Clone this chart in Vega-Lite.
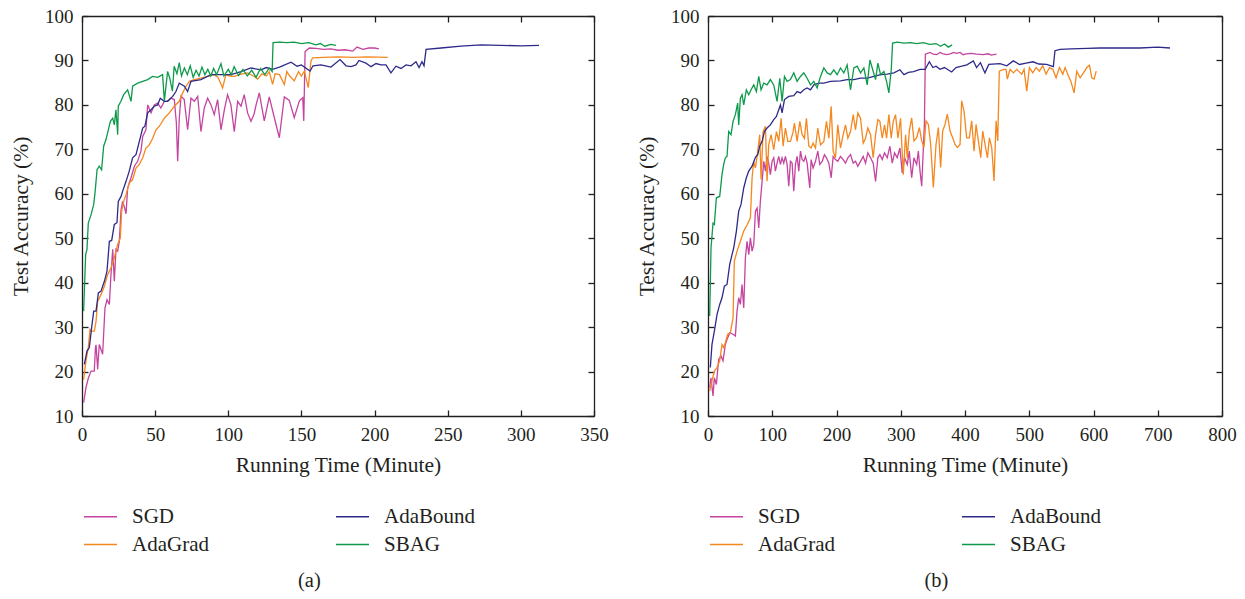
{
"$schema": "https://vega.github.io/schema/vega-lite/v6.json",
"padding": {"left": 10, "top": 7, "right": 5, "bottom": 5},
"background": "white",
"config": {
  "font": "Liberation Serif",
  "view": {"stroke": null},
  "axis": {"labelFont": "Liberation Serif", "titleFont": "Liberation Serif", "labelFontSize": 19, "titleFontSize": 21.5, "titleFontWeight": "normal", "labelColor": "#231f20", "titleColor": "#231f20", "domainColor": "#231f20", "tickColor": "#231f20", "domainWidth": 1.3, "tickWidth": 1.3, "tickSize": -6, "grid": false, "labelPadding": 15, "labelFlush": false},
  "legend": {"labelFont": "Liberation Serif", "labelFontSize": 21, "labelColor": "#231f20"},
  "title": {"font": "Liberation Serif", "fontSize": 20.5, "fontWeight": "normal", "color": "#231f20"},
  "concat": {"spacing": 27}
},
"datasets": {
"a": [
{"s":"SGD","t":1.1,"v":13},{"s":"SGD","t":2.7,"v":16.4},{"s":"SGD","t":4.3,"v":18.5},{"s":"SGD","t":6.2,"v":20.1},{"s":"SGD","t":8.4,"v":20.1},{"s":"SGD","t":9.2,"v":25.4},{"s":"SGD","t":9.6,"v":26},{"s":"SGD","t":10.7,"v":20.5},{"s":"SGD","t":11.8,"v":26.1},{"s":"SGD","t":14.1,"v":23.9},{"s":"SGD","t":15.7,"v":34.3},{"s":"SGD","t":17.1,"v":36.2},{"s":"SGD","t":18.7,"v":35.1},{"s":"SGD","t":19.8,"v":41.8},{"s":"SGD","t":21,"v":47.5},{"s":"SGD","t":22.1,"v":40.3},{"s":"SGD","t":23.2,"v":47.5},{"s":"SGD","t":24.4,"v":47.1},{"s":"SGD","t":25.5,"v":49.3},{"s":"SGD","t":26.7,"v":56.4},{"s":"SGD","t":27.8,"v":58.3},{"s":"SGD","t":29,"v":57},{"s":"SGD","t":30.1,"v":55.5},{"s":"SGD","t":31.2,"v":61.3},{"s":"SGD","t":33.5,"v":63.6},{"s":"SGD","t":35.8,"v":66.2},{"s":"SGD","t":38,"v":67.3},{"s":"SGD","t":40.3,"v":69.6},{"s":"SGD","t":41.5,"v":72.9},{"s":"SGD","t":43.7,"v":74.4},{"s":"SGD","t":44.9,"v":80},{"s":"SGD","t":47.2,"v":78.2},{"s":"SGD","t":49.4,"v":80},{"s":"SGD","t":51.7,"v":80.4},{"s":"SGD","t":53.9,"v":79.3},{"s":"SGD","t":56.3,"v":80.8},{"s":"SGD","t":58.5,"v":80.8},{"s":"SGD","t":60.8,"v":81.5},{"s":"SGD","t":63.1,"v":81.2},{"s":"SGD","t":64.5,"v":76},{"s":"SGD","t":65.4,"v":67.3},{"s":"SGD","t":66.5,"v":77},{"s":"SGD","t":67.7,"v":82},{"s":"SGD","t":69.9,"v":81.2},{"s":"SGD","t":72.2,"v":74.4},{"s":"SGD","t":74.5,"v":81.5},{"s":"SGD","t":76.8,"v":80.8},{"s":"SGD","t":79.1,"v":81.9},{"s":"SGD","t":81.3,"v":74},{"s":"SGD","t":83.6,"v":79.3},{"s":"SGD","t":85.9,"v":81.5},{"s":"SGD","t":88.2,"v":80},{"s":"SGD","t":90.4,"v":77.8},{"s":"SGD","t":92.7,"v":81.2},{"s":"SGD","t":95,"v":74.4},{"s":"SGD","t":97.3,"v":78.9},{"s":"SGD","t":99.5,"v":82.3},{"s":"SGD","t":101.8,"v":80},{"s":"SGD","t":104.1,"v":74},{"s":"SGD","t":106.4,"v":80.8},{"s":"SGD","t":108.7,"v":79.7},{"s":"SGD","t":110.9,"v":82.3},{"s":"SGD","t":113.2,"v":78.2},{"s":"SGD","t":115.5,"v":76.3},{"s":"SGD","t":117.6,"v":77.9},{"s":"SGD","t":119,"v":80},{"s":"SGD","t":121.2,"v":82.7},{"s":"SGD","t":124.6,"v":76.4},{"s":"SGD","t":128,"v":81.8},{"s":"SGD","t":131.5,"v":77.1},{"s":"SGD","t":134.9,"v":72.6},{"s":"SGD","t":138.3,"v":81.8},{"s":"SGD","t":141.7,"v":81},{"s":"SGD","t":145.1,"v":77.1},{"s":"SGD","t":148.6,"v":80.9},{"s":"SGD","t":150.9,"v":81.6},{"s":"SGD","t":151.6,"v":76.4},{"s":"SGD","t":152.5,"v":92},{"s":"SGD","t":155.4,"v":92.8},{"s":"SGD","t":160,"v":92.7},{"s":"SGD","t":165,"v":92.5},{"s":"SGD","t":170,"v":92.6},{"s":"SGD","t":175,"v":92.3},{"s":"SGD","t":180,"v":92.4},{"s":"SGD","t":185,"v":92.1},{"s":"SGD","t":188,"v":93},{"s":"SGD","t":192,"v":92.5},{"s":"SGD","t":196,"v":92.8},{"s":"SGD","t":200,"v":92.8},{"s":"SGD","t":203,"v":92.6},
{"s":"AdaGrad","t":1.1,"v":18.2},{"s":"AdaGrad","t":2.7,"v":22.4},{"s":"AdaGrad","t":4.3,"v":25.4},{"s":"AdaGrad","t":5.5,"v":29.5},{"s":"AdaGrad","t":6.2,"v":29.1},{"s":"AdaGrad","t":8.4,"v":29.1},{"s":"AdaGrad","t":9.6,"v":31.3},{"s":"AdaGrad","t":10.7,"v":35.8},{"s":"AdaGrad","t":13,"v":37.3},{"s":"AdaGrad","t":15.3,"v":39.2},{"s":"AdaGrad","t":17.5,"v":41.8},{"s":"AdaGrad","t":19.8,"v":43.3},{"s":"AdaGrad","t":22.1,"v":45.6},{"s":"AdaGrad","t":24.4,"v":48.6},{"s":"AdaGrad","t":26.2,"v":50.1},{"s":"AdaGrad","t":27.1,"v":56.1},{"s":"AdaGrad","t":28.5,"v":58.3},{"s":"AdaGrad","t":30.1,"v":59.8},{"s":"AdaGrad","t":32.3,"v":62.4},{"s":"AdaGrad","t":34.6,"v":63.2},{"s":"AdaGrad","t":36.9,"v":65.8},{"s":"AdaGrad","t":39.2,"v":66.6},{"s":"AdaGrad","t":41.5,"v":68.1},{"s":"AdaGrad","t":43.7,"v":70.3},{"s":"AdaGrad","t":46,"v":71},{"s":"AdaGrad","t":48.3,"v":72.5},{"s":"AdaGrad","t":50.6,"v":74.4},{"s":"AdaGrad","t":52.9,"v":75.2},{"s":"AdaGrad","t":56.3,"v":77},{"s":"AdaGrad","t":59.7,"v":78.2},{"s":"AdaGrad","t":63.1,"v":79.7},{"s":"AdaGrad","t":66.5,"v":80.8},{"s":"AdaGrad","t":68.8,"v":82.7},{"s":"AdaGrad","t":71.1,"v":84.2},{"s":"AdaGrad","t":73.4,"v":85.3},{"s":"AdaGrad","t":76.8,"v":85.7},{"s":"AdaGrad","t":81.3,"v":86},{"s":"AdaGrad","t":85.9,"v":86.4},{"s":"AdaGrad","t":90.4,"v":86.8},{"s":"AdaGrad","t":93,"v":86.2},{"s":"AdaGrad","t":96.1,"v":83.8},{"s":"AdaGrad","t":98.4,"v":86.8},{"s":"AdaGrad","t":101,"v":86.5},{"s":"AdaGrad","t":104.1,"v":86.4},{"s":"AdaGrad","t":108.7,"v":86.9},{"s":"AdaGrad","t":113.2,"v":87.2},{"s":"AdaGrad","t":117.8,"v":86.4},{"s":"AdaGrad","t":120.1,"v":85.8},{"s":"AdaGrad","t":123,"v":87},{"s":"AdaGrad","t":126,"v":86.5},{"s":"AdaGrad","t":128,"v":87.5},{"s":"AdaGrad","t":130.3,"v":84.6},{"s":"AdaGrad","t":132,"v":87},{"s":"AdaGrad","t":135,"v":86.8},{"s":"AdaGrad","t":138.3,"v":84.6},{"s":"AdaGrad","t":140,"v":87.5},{"s":"AdaGrad","t":142,"v":86.5},{"s":"AdaGrad","t":145.1,"v":85.4},{"s":"AdaGrad","t":148,"v":87.5},{"s":"AdaGrad","t":150,"v":86.5},{"s":"AdaGrad","t":152,"v":87.6},{"s":"AdaGrad","t":154.7,"v":83.9},{"s":"AdaGrad","t":156.5,"v":89.9},{"s":"AdaGrad","t":157.7,"v":90.6},{"s":"AdaGrad","t":165,"v":90.7},{"s":"AdaGrad","t":175,"v":90.8},{"s":"AdaGrad","t":185,"v":90.7},{"s":"AdaGrad","t":195,"v":90.8},{"s":"AdaGrad","t":209,"v":90.7},
{"s":"AdaBound","t":1.6,"v":21.6},{"s":"AdaBound","t":3.4,"v":24.6},{"s":"AdaBound","t":5,"v":25.4},{"s":"AdaBound","t":6.6,"v":29.9},{"s":"AdaBound","t":8,"v":33.6},{"s":"AdaBound","t":9.6,"v":33.6},{"s":"AdaBound","t":11.2,"v":37.7},{"s":"AdaBound","t":13,"v":38.1},{"s":"AdaBound","t":15.3,"v":40.3},{"s":"AdaBound","t":17.1,"v":42.6},{"s":"AdaBound","t":18.7,"v":49.3},{"s":"AdaBound","t":20.3,"v":49.5},{"s":"AdaBound","t":22.1,"v":53.1},{"s":"AdaBound","t":23.9,"v":53.5},{"s":"AdaBound","t":24.8,"v":58.3},{"s":"AdaBound","t":26.7,"v":59.4},{"s":"AdaBound","t":27.8,"v":60.6},{"s":"AdaBound","t":30.1,"v":62.8},{"s":"AdaBound","t":32.3,"v":65.1},{"s":"AdaBound","t":34.6,"v":68.1},{"s":"AdaBound","t":36.9,"v":68.8},{"s":"AdaBound","t":39.2,"v":71.8},{"s":"AdaBound","t":41.5,"v":74.8},{"s":"AdaBound","t":43,"v":75.2},{"s":"AdaBound","t":44.9,"v":78.2},{"s":"AdaBound","t":47.2,"v":78.9},{"s":"AdaBound","t":49.4,"v":79.7},{"s":"AdaBound","t":51.7,"v":80},{"s":"AdaBound","t":53.5,"v":81.5},{"s":"AdaBound","t":56.3,"v":80.8},{"s":"AdaBound","t":58.5,"v":80.8},{"s":"AdaBound","t":62,"v":81.9},{"s":"AdaBound","t":64.2,"v":83},{"s":"AdaBound","t":66.5,"v":84.9},{"s":"AdaBound","t":70,"v":84.2},{"s":"AdaBound","t":72.2,"v":83},{"s":"AdaBound","t":74.5,"v":85.3},{"s":"AdaBound","t":81.3,"v":85.7},{"s":"AdaBound","t":88.2,"v":86.8},{"s":"AdaBound","t":95,"v":86.8},{"s":"AdaBound","t":101.8,"v":86.8},{"s":"AdaBound","t":108.7,"v":87.5},{"s":"AdaBound","t":115.5,"v":88.3},{"s":"AdaBound","t":122.3,"v":87.9},{"s":"AdaBound","t":126,"v":88.4},{"s":"AdaBound","t":130.3,"v":88},{"s":"AdaBound","t":135,"v":88.5},{"s":"AdaBound","t":142.9,"v":89.6},{"s":"AdaBound","t":147,"v":88.7},{"s":"AdaBound","t":150,"v":89},{"s":"AdaBound","t":155.9,"v":87.6},{"s":"AdaBound","t":157.9,"v":88.8},{"s":"AdaBound","t":163.4,"v":89},{"s":"AdaBound","t":170.2,"v":88.5},{"s":"AdaBound","t":176.4,"v":90.2},{"s":"AdaBound","t":180.5,"v":88.8},{"s":"AdaBound","t":183.9,"v":88.6},{"s":"AdaBound","t":187.3,"v":89},{"s":"AdaBound","t":189.4,"v":90},{"s":"AdaBound","t":194.1,"v":89.4},{"s":"AdaBound","t":197.6,"v":88.6},{"s":"AdaBound","t":201,"v":89.3},{"s":"AdaBound","t":204.4,"v":89},{"s":"AdaBound","t":207.8,"v":89},{"s":"AdaBound","t":211.2,"v":87.2},{"s":"AdaBound","t":214.6,"v":88.7},{"s":"AdaBound","t":218.1,"v":88.2},{"s":"AdaBound","t":221.5,"v":89},{"s":"AdaBound","t":224.9,"v":88.8},{"s":"AdaBound","t":228.3,"v":89.7},{"s":"AdaBound","t":230.4,"v":88.4},{"s":"AdaBound","t":232.4,"v":89.7},{"s":"AdaBound","t":233.8,"v":88.8},{"s":"AdaBound","t":235.2,"v":92.5},{"s":"AdaBound","t":245.4,"v":92.8},{"s":"AdaBound","t":259.1,"v":93.2},{"s":"AdaBound","t":272.8,"v":93.5},{"s":"AdaBound","t":286.4,"v":93.4},{"s":"AdaBound","t":300.1,"v":93.3},{"s":"AdaBound","t":312.4,"v":93.4},
{"s":"SBAG","t":1.1,"v":33.6},{"s":"SBAG","t":2.5,"v":46.3},{"s":"SBAG","t":3.4,"v":47.5},{"s":"SBAG","t":4.3,"v":53.4},{"s":"SBAG","t":6.2,"v":55.3},{"s":"SBAG","t":8,"v":57.6},{"s":"SBAG","t":8.9,"v":60.2},{"s":"SBAG","t":10.3,"v":65.4},{"s":"SBAG","t":11.8,"v":66.2},{"s":"SBAG","t":13.4,"v":65.4},{"s":"SBAG","t":14.8,"v":70.7},{"s":"SBAG","t":16.4,"v":72.2},{"s":"SBAG","t":19.4,"v":76.3},{"s":"SBAG","t":21,"v":77},{"s":"SBAG","t":22.1,"v":75.5},{"s":"SBAG","t":23.2,"v":78.9},{"s":"SBAG","t":24.4,"v":73.3},{"s":"SBAG","t":24.8,"v":79.7},{"s":"SBAG","t":26.6,"v":80.8},{"s":"SBAG","t":28.5,"v":82.3},{"s":"SBAG","t":31.2,"v":83.4},{"s":"SBAG","t":33.5,"v":80.8},{"s":"SBAG","t":34.6,"v":84.2},{"s":"SBAG","t":38,"v":84.9},{"s":"SBAG","t":41.5,"v":85.3},{"s":"SBAG","t":44.9,"v":85.7},{"s":"SBAG","t":48.3,"v":86.4},{"s":"SBAG","t":51.7,"v":86.2},{"s":"SBAG","t":55.1,"v":86.8},{"s":"SBAG","t":56.3,"v":80.9},{"s":"SBAG","t":58.5,"v":87.5},{"s":"SBAG","t":60,"v":86},{"s":"SBAG","t":61.8,"v":83.1},{"s":"SBAG","t":63,"v":88.7},{"s":"SBAG","t":64.9,"v":87},{"s":"SBAG","t":66.5,"v":89.5},{"s":"SBAG","t":68,"v":86.5},{"s":"SBAG","t":70,"v":88.3},{"s":"SBAG","t":72,"v":86.8},{"s":"SBAG","t":74,"v":88.8},{"s":"SBAG","t":76,"v":86.2},{"s":"SBAG","t":78,"v":87.8},{"s":"SBAG","t":80,"v":86.5},{"s":"SBAG","t":82,"v":88.5},{"s":"SBAG","t":84,"v":86.8},{"s":"SBAG","t":86,"v":88},{"s":"SBAG","t":88,"v":86.5},{"s":"SBAG","t":90,"v":88.2},{"s":"SBAG","t":92,"v":86.8},{"s":"SBAG","t":95,"v":89.3},{"s":"SBAG","t":97,"v":86.5},{"s":"SBAG","t":100,"v":88},{"s":"SBAG","t":102,"v":86.8},{"s":"SBAG","t":104,"v":88.6},{"s":"SBAG","t":107,"v":86.6},{"s":"SBAG","t":110,"v":88},{"s":"SBAG","t":113,"v":86.5},{"s":"SBAG","t":116,"v":87.8},{"s":"SBAG","t":119,"v":86.2},{"s":"SBAG","t":122,"v":88.2},{"s":"SBAG","t":125,"v":86.8},{"s":"SBAG","t":128,"v":88.3},{"s":"SBAG","t":130,"v":87.5},{"s":"SBAG","t":130.6,"v":94},{"s":"SBAG","t":135,"v":94.1},{"s":"SBAG","t":140,"v":94},{"s":"SBAG","t":145,"v":94.1},{"s":"SBAG","t":150,"v":93.8},{"s":"SBAG","t":155,"v":94},{"s":"SBAG","t":160,"v":93.5},{"s":"SBAG","t":163,"v":93.8},{"s":"SBAG","t":166,"v":93.2},{"s":"SBAG","t":170,"v":93.6},{"s":"SBAG","t":173.6,"v":93.4}
],
"b": [
{"s":"SGD","t":2.6,"v":16.4},{"s":"SGD","t":4.7,"v":18.6},{"s":"SGD","t":7.8,"v":14.5},{"s":"SGD","t":9.9,"v":18.6},{"s":"SGD","t":13,"v":17.1},{"s":"SGD","t":16.6,"v":22.7},{"s":"SGD","t":20.3,"v":23.5},{"s":"SGD","t":23.4,"v":22.4},{"s":"SGD","t":27,"v":26.1},{"s":"SGD","t":29.6,"v":27.2},{"s":"SGD","t":33.8,"v":28.7},{"s":"SGD","t":39,"v":28.4},{"s":"SGD","t":42.6,"v":28},{"s":"SGD","t":45.2,"v":33.6},{"s":"SGD","t":47.8,"v":36.6},{"s":"SGD","t":50.4,"v":35.1},{"s":"SGD","t":53,"v":39.6},{"s":"SGD","t":55.6,"v":34.3},{"s":"SGD","t":58.2,"v":45.6},{"s":"SGD","t":60.8,"v":49.3},{"s":"SGD","t":63.4,"v":46.3},{"s":"SGD","t":66,"v":50.1},{"s":"SGD","t":68.6,"v":47.1},{"s":"SGD","t":71.2,"v":48.6},{"s":"SGD","t":73.8,"v":56.1},{"s":"SGD","t":76.4,"v":56.8},{"s":"SGD","t":79,"v":52.3},{"s":"SGD","t":81.5,"v":58.3},{"s":"SGD","t":84.2,"v":62.8},{"s":"SGD","t":86.8,"v":67.3},{"s":"SGD","t":89.4,"v":65.1},{"s":"SGD","t":91.9,"v":68.4},{"s":"SGD","t":94.5,"v":66.9},{"s":"SGD","t":97.1,"v":64.3},{"s":"SGD","t":99.7,"v":67.3},{"s":"SGD","t":102.3,"v":68.1},{"s":"SGD","t":104.9,"v":65.1},{"s":"SGD","t":107.5,"v":66.9},{"s":"SGD","t":110.1,"v":68.4},{"s":"SGD","t":112.7,"v":66.6},{"s":"SGD","t":115.3,"v":68.1},{"s":"SGD","t":117.9,"v":66.9},{"s":"SGD","t":120.5,"v":68.4},{"s":"SGD","t":123.1,"v":66.6},{"s":"SGD","t":125.7,"v":61.7},{"s":"SGD","t":128.3,"v":67.3},{"s":"SGD","t":130.9,"v":66.9},{"s":"SGD","t":133.5,"v":60.6},{"s":"SGD","t":136.1,"v":66.6},{"s":"SGD","t":138.7,"v":68.4},{"s":"SGD","t":141.3,"v":65.1},{"s":"SGD","t":143.9,"v":69.6},{"s":"SGD","t":146.5,"v":67.7},{"s":"SGD","t":149.1,"v":67.3},{"s":"SGD","t":151.7,"v":68.4},{"s":"SGD","t":154.3,"v":66.9},{"s":"SGD","t":158.4,"v":61.3},{"s":"SGD","t":160.5,"v":67.7},{"s":"SGD","t":163.6,"v":65.8},{"s":"SGD","t":167.3,"v":67.3},{"s":"SGD","t":170.9,"v":69.6},{"s":"SGD","t":174,"v":66.6},{"s":"SGD","t":177.7,"v":67.3},{"s":"SGD","t":181.3,"v":68.8},{"s":"SGD","t":184.4,"v":68.1},{"s":"SGD","t":188.1,"v":66.9},{"s":"SGD","t":191.7,"v":63.6},{"s":"SGD","t":194.8,"v":68.4},{"s":"SGD","t":198.4,"v":67.7},{"s":"SGD","t":202,"v":67.3},{"s":"SGD","t":206.2,"v":68.4},{"s":"SGD","t":210.4,"v":67.7},{"s":"SGD","t":214,"v":66.9},{"s":"SGD","t":217.7,"v":68.1},{"s":"SGD","t":221.8,"v":68.8},{"s":"SGD","t":226,"v":66.9},{"s":"SGD","t":229.6,"v":67.3},{"s":"SGD","t":233.2,"v":66.2},{"s":"SGD","t":237.4,"v":67.3},{"s":"SGD","t":241.6,"v":68.4},{"s":"SGD","t":245.2,"v":66.9},{"s":"SGD","t":248.8,"v":69.2},{"s":"SGD","t":253,"v":68.1},{"s":"SGD","t":257.1,"v":66.9},{"s":"SGD","t":260.8,"v":62.8},{"s":"SGD","t":264.4,"v":68.1},{"s":"SGD","t":267.5,"v":68.8},{"s":"SGD","t":271.2,"v":67.7},{"s":"SGD","t":274.8,"v":69.2},{"s":"SGD","t":279,"v":68.1},{"s":"SGD","t":283.1,"v":70.7},{"s":"SGD","t":286.7,"v":66.9},{"s":"SGD","t":290.4,"v":69.2},{"s":"SGD","t":294.5,"v":68.1},{"s":"SGD","t":298.7,"v":70.3},{"s":"SGD","t":302.3,"v":64.7},{"s":"SGD","t":306,"v":68.1},{"s":"SGD","t":310.2,"v":66.6},{"s":"SGD","t":313.3,"v":69.6},{"s":"SGD","t":317,"v":63.6},{"s":"SGD","t":320.6,"v":68.1},{"s":"SGD","t":324.8,"v":66.6},{"s":"SGD","t":327.4,"v":69.6},{"s":"SGD","t":330,"v":65.1},{"s":"SGD","t":332.6,"v":61.7},{"s":"SGD","t":335.2,"v":70.4},{"s":"SGD","t":336.8,"v":75.6},{"s":"SGD","t":338.3,"v":91.4},{"s":"SGD","t":345.5,"v":91.8},{"s":"SGD","t":350.7,"v":91.4},{"s":"SGD","t":355.9,"v":91.3},{"s":"SGD","t":361.1,"v":91.8},{"s":"SGD","t":366,"v":91.5},{"s":"SGD","t":371.5,"v":91.3},{"s":"SGD","t":377,"v":91.5},{"s":"SGD","t":382,"v":91.8},{"s":"SGD","t":387,"v":91.6},{"s":"SGD","t":392.3,"v":91.8},{"s":"SGD","t":397,"v":91.3},{"s":"SGD","t":402,"v":91.5},{"s":"SGD","t":410,"v":91.6},{"s":"SGD","t":418,"v":91.4},{"s":"SGD","t":428.2,"v":91.3},{"s":"SGD","t":436,"v":91.5},{"s":"SGD","t":441,"v":91.2},{"s":"SGD","t":449,"v":91.4},
{"s":"AdaGrad","t":2.6,"v":15.6},{"s":"AdaGrad","t":6.2,"v":17.9},{"s":"AdaGrad","t":9.9,"v":20.1},{"s":"AdaGrad","t":14,"v":20.9},{"s":"AdaGrad","t":18.2,"v":22.4},{"s":"AdaGrad","t":21.8,"v":26.1},{"s":"AdaGrad","t":24.4,"v":25.4},{"s":"AdaGrad","t":27,"v":26.5},{"s":"AdaGrad","t":30.6,"v":28.4},{"s":"AdaGrad","t":34.8,"v":28.7},{"s":"AdaGrad","t":39,"v":32.1},{"s":"AdaGrad","t":41,"v":44.8},{"s":"AdaGrad","t":45.2,"v":47.1},{"s":"AdaGrad","t":50.4,"v":49.3},{"s":"AdaGrad","t":55.6,"v":51.6},{"s":"AdaGrad","t":61.3,"v":53.1},{"s":"AdaGrad","t":66,"v":54.6},{"s":"AdaGrad","t":68.6,"v":63.6},{"s":"AdaGrad","t":71.2,"v":67.3},{"s":"AdaGrad","t":73.8,"v":65.8},{"s":"AdaGrad","t":76.4,"v":68.4},{"s":"AdaGrad","t":80.5,"v":73.3},{"s":"AdaGrad","t":82.6,"v":63.2},{"s":"AdaGrad","t":85.7,"v":74},{"s":"AdaGrad","t":89.4,"v":75.2},{"s":"AdaGrad","t":91.9,"v":62.8},{"s":"AdaGrad","t":94.5,"v":71},{"s":"AdaGrad","t":98.2,"v":73.3},{"s":"AdaGrad","t":102.3,"v":69.9},{"s":"AdaGrad","t":106.5,"v":74},{"s":"AdaGrad","t":110.1,"v":71.8},{"s":"AdaGrad","t":113.8,"v":77},{"s":"AdaGrad","t":116.9,"v":70.7},{"s":"AdaGrad","t":120.5,"v":74.8},{"s":"AdaGrad","t":124.2,"v":71.8},{"s":"AdaGrad","t":128.3,"v":71.8},{"s":"AdaGrad","t":132.5,"v":74},{"s":"AdaGrad","t":134.5,"v":75.9},{"s":"AdaGrad","t":138.7,"v":71.8},{"s":"AdaGrad","t":142.9,"v":76.3},{"s":"AdaGrad","t":146.5,"v":73.3},{"s":"AdaGrad","t":150.1,"v":72.5},{"s":"AdaGrad","t":153.2,"v":77},{"s":"AdaGrad","t":156.9,"v":70.7},{"s":"AdaGrad","t":160.5,"v":70.3},{"s":"AdaGrad","t":163.6,"v":71.4},{"s":"AdaGrad","t":167.3,"v":70.3},{"s":"AdaGrad","t":170.9,"v":74.8},{"s":"AdaGrad","t":175.1,"v":71},{"s":"AdaGrad","t":180.3,"v":71.8},{"s":"AdaGrad","t":184.4,"v":76.3},{"s":"AdaGrad","t":188.1,"v":72.5},{"s":"AdaGrad","t":191.7,"v":79.7},{"s":"AdaGrad","t":194.8,"v":69.6},{"s":"AdaGrad","t":198.4,"v":68.1},{"s":"AdaGrad","t":202,"v":75.5},{"s":"AdaGrad","t":206.2,"v":70.3},{"s":"AdaGrad","t":210.4,"v":73.3},{"s":"AdaGrad","t":214,"v":75.5},{"s":"AdaGrad","t":217.7,"v":72.5},{"s":"AdaGrad","t":221.8,"v":74},{"s":"AdaGrad","t":226,"v":77.8},{"s":"AdaGrad","t":229.6,"v":74.4},{"s":"AdaGrad","t":233.2,"v":78.2},{"s":"AdaGrad","t":237.4,"v":77},{"s":"AdaGrad","t":241.6,"v":71.4},{"s":"AdaGrad","t":245.2,"v":72.5},{"s":"AdaGrad","t":248.8,"v":74.8},{"s":"AdaGrad","t":253,"v":73.3},{"s":"AdaGrad","t":257.1,"v":68.1},{"s":"AdaGrad","t":260.8,"v":73.3},{"s":"AdaGrad","t":264.4,"v":76.7},{"s":"AdaGrad","t":267.5,"v":76.3},{"s":"AdaGrad","t":271.2,"v":72.5},{"s":"AdaGrad","t":274.8,"v":75.5},{"s":"AdaGrad","t":277.9,"v":72.5},{"s":"AdaGrad","t":281.5,"v":77.8},{"s":"AdaGrad","t":285.2,"v":72.5},{"s":"AdaGrad","t":288.3,"v":76.3},{"s":"AdaGrad","t":291.9,"v":77.8},{"s":"AdaGrad","t":295.6,"v":72.5},{"s":"AdaGrad","t":299.7,"v":77},{"s":"AdaGrad","t":303.9,"v":64.3},{"s":"AdaGrad","t":307.5,"v":73.3},{"s":"AdaGrad","t":310.2,"v":68.1},{"s":"AdaGrad","t":313.3,"v":74.1},{"s":"AdaGrad","t":317,"v":77.1},{"s":"AdaGrad","t":320.6,"v":71.9},{"s":"AdaGrad","t":324.8,"v":72.6},{"s":"AdaGrad","t":329,"v":74.9},{"s":"AdaGrad","t":332.6,"v":71.9},{"s":"AdaGrad","t":336.2,"v":70.4},{"s":"AdaGrad","t":339.3,"v":76.4},{"s":"AdaGrad","t":343,"v":75.6},{"s":"AdaGrad","t":346.6,"v":71.1},{"s":"AdaGrad","t":350.7,"v":61.4},{"s":"AdaGrad","t":354.9,"v":71.1},{"s":"AdaGrad","t":358.5,"v":74.9},{"s":"AdaGrad","t":362.1,"v":65.9},{"s":"AdaGrad","t":365.2,"v":74.1},{"s":"AdaGrad","t":368.9,"v":75.6},{"s":"AdaGrad","t":372.5,"v":77.9},{"s":"AdaGrad","t":376.7,"v":74.1},{"s":"AdaGrad","t":380.8,"v":72.6},{"s":"AdaGrad","t":384.5,"v":71.1},{"s":"AdaGrad","t":388.1,"v":70.4},{"s":"AdaGrad","t":392.3,"v":71.1},{"s":"AdaGrad","t":394.8,"v":80.9},{"s":"AdaGrad","t":398.5,"v":78.6},{"s":"AdaGrad","t":402.6,"v":72.6},{"s":"AdaGrad","t":406.8,"v":72.6},{"s":"AdaGrad","t":410.4,"v":76.4},{"s":"AdaGrad","t":414.1,"v":69.6},{"s":"AdaGrad","t":417.2,"v":75.6},{"s":"AdaGrad","t":420.8,"v":71.9},{"s":"AdaGrad","t":424.5,"v":68.1},{"s":"AdaGrad","t":427.6,"v":74.1},{"s":"AdaGrad","t":431.2,"v":71.1},{"s":"AdaGrad","t":434.9,"v":68.1},{"s":"AdaGrad","t":438,"v":72.6},{"s":"AdaGrad","t":441.6,"v":70.4},{"s":"AdaGrad","t":445.2,"v":62.9},{"s":"AdaGrad","t":448.4,"v":76.4},{"s":"AdaGrad","t":451,"v":71.9},{"s":"AdaGrad","t":453.4,"v":87.6},{"s":"AdaGrad","t":457.1,"v":87.8},{"s":"AdaGrad","t":460.7,"v":88},{"s":"AdaGrad","t":463.8,"v":88},{"s":"AdaGrad","t":465.9,"v":85.8},{"s":"AdaGrad","t":470.1,"v":88},{"s":"AdaGrad","t":475.3,"v":87.2},{"s":"AdaGrad","t":480.5,"v":88},{"s":"AdaGrad","t":488.3,"v":86.9},{"s":"AdaGrad","t":491.9,"v":88},{"s":"AdaGrad","t":496.1,"v":83.1},{"s":"AdaGrad","t":500.2,"v":88.4},{"s":"AdaGrad","t":505.4,"v":87.2},{"s":"AdaGrad","t":510.6,"v":88.4},{"s":"AdaGrad","t":515.8,"v":87.6},{"s":"AdaGrad","t":521,"v":88.8},{"s":"AdaGrad","t":526.2,"v":86.9},{"s":"AdaGrad","t":531.4,"v":88.4},{"s":"AdaGrad","t":536.6,"v":88},{"s":"AdaGrad","t":541.8,"v":86.1},{"s":"AdaGrad","t":547,"v":88.4},{"s":"AdaGrad","t":552.2,"v":86.9},{"s":"AdaGrad","t":555.8,"v":88.4},{"s":"AdaGrad","t":561,"v":86.5},{"s":"AdaGrad","t":564.6,"v":85.4},{"s":"AdaGrad","t":569.8,"v":82.7},{"s":"AdaGrad","t":574,"v":87.6},{"s":"AdaGrad","t":579.2,"v":86.1},{"s":"AdaGrad","t":584.4,"v":87.2},{"s":"AdaGrad","t":589.6,"v":88.4},{"s":"AdaGrad","t":593.7,"v":88.9},{"s":"AdaGrad","t":597.4,"v":86.1},{"s":"AdaGrad","t":601,"v":85.8},{"s":"AdaGrad","t":604.2,"v":87.6},
{"s":"AdaBound","t":3.6,"v":20.9},{"s":"AdaBound","t":6.2,"v":26.1},{"s":"AdaBound","t":9.9,"v":29.1},{"s":"AdaBound","t":14,"v":32.8},{"s":"AdaBound","t":18.2,"v":35.1},{"s":"AdaBound","t":21.8,"v":36.6},{"s":"AdaBound","t":25.5,"v":39.2},{"s":"AdaBound","t":29.6,"v":39.6},{"s":"AdaBound","t":33.8,"v":44.1},{"s":"AdaBound","t":37.4,"v":46.3},{"s":"AdaBound","t":40,"v":47.8},{"s":"AdaBound","t":44.2,"v":51.6},{"s":"AdaBound","t":47.8,"v":56.1},{"s":"AdaBound","t":51.4,"v":57.6},{"s":"AdaBound","t":55.6,"v":61.3},{"s":"AdaBound","t":59.7,"v":63.6},{"s":"AdaBound","t":63.4,"v":65.1},{"s":"AdaBound","t":68.6,"v":66.2},{"s":"AdaBound","t":73.8,"v":68.2},{"s":"AdaBound","t":77.4,"v":68.8},{"s":"AdaBound","t":80.5,"v":70.7},{"s":"AdaBound","t":84.2,"v":71.8},{"s":"AdaBound","t":87.8,"v":74},{"s":"AdaBound","t":91.9,"v":74.8},{"s":"AdaBound","t":97.1,"v":75.5},{"s":"AdaBound","t":102.3,"v":76.7},{"s":"AdaBound","t":106.5,"v":77.4},{"s":"AdaBound","t":110.1,"v":78.9},{"s":"AdaBound","t":112.7,"v":80},{"s":"AdaBound","t":115.3,"v":78.2},{"s":"AdaBound","t":119,"v":81.2},{"s":"AdaBound","t":125.7,"v":81.9},{"s":"AdaBound","t":133.5,"v":82.1},{"s":"AdaBound","t":138.7,"v":83},{"s":"AdaBound","t":143.9,"v":82.7},{"s":"AdaBound","t":149.1,"v":83.4},{"s":"AdaBound","t":154.3,"v":83.8},{"s":"AdaBound","t":159.5,"v":83.4},{"s":"AdaBound","t":164.7,"v":84.5},{"s":"AdaBound","t":172.5,"v":84.9},{"s":"AdaBound","t":180.3,"v":84.9},{"s":"AdaBound","t":190.6,"v":85.3},{"s":"AdaBound","t":206.2,"v":85.4},{"s":"AdaBound","t":216.6,"v":85.7},{"s":"AdaBound","t":227,"v":85.7},{"s":"AdaBound","t":237.4,"v":86},{"s":"AdaBound","t":247.8,"v":86},{"s":"AdaBound","t":258.2,"v":86.4},{"s":"AdaBound","t":268.6,"v":86.8},{"s":"AdaBound","t":279,"v":86.9},{"s":"AdaBound","t":289.4,"v":87.2},{"s":"AdaBound","t":298.7,"v":87.9},{"s":"AdaBound","t":305,"v":86.8},{"s":"AdaBound","t":312,"v":87.3},{"s":"AdaBound","t":320,"v":87.5},{"s":"AdaBound","t":330,"v":88},{"s":"AdaBound","t":338,"v":88},{"s":"AdaBound","t":344.5,"v":89.7},{"s":"AdaBound","t":350,"v":88.4},{"s":"AdaBound","t":355,"v":88.7},{"s":"AdaBound","t":361,"v":88},{"s":"AdaBound","t":368,"v":88.4},{"s":"AdaBound","t":379.2,"v":87.4},{"s":"AdaBound","t":386,"v":88.4},{"s":"AdaBound","t":395,"v":88.7},{"s":"AdaBound","t":403,"v":89},{"s":"AdaBound","t":413,"v":89.9},{"s":"AdaBound","t":418,"v":88.4},{"s":"AdaBound","t":424,"v":89.5},{"s":"AdaBound","t":431,"v":87.2},{"s":"AdaBound","t":437,"v":89.1},{"s":"AdaBound","t":454.5,"v":89.3},{"s":"AdaBound","t":465,"v":88.8},{"s":"AdaBound","t":475.2,"v":89.9},{"s":"AdaBound","t":485,"v":89.1},{"s":"AdaBound","t":495,"v":89.4},{"s":"AdaBound","t":506,"v":89.7},{"s":"AdaBound","t":515,"v":89.2},{"s":"AdaBound","t":527,"v":89.1},{"s":"AdaBound","t":537.5,"v":88.6},{"s":"AdaBound","t":540,"v":92.2},{"s":"AdaBound","t":548,"v":92.5},{"s":"AdaBound","t":565,"v":92.6},{"s":"AdaBound","t":590,"v":92.7},{"s":"AdaBound","t":610,"v":92.8},{"s":"AdaBound","t":640,"v":92.8},{"s":"AdaBound","t":672,"v":92.8},{"s":"AdaBound","t":700,"v":93},{"s":"AdaBound","t":719,"v":92.8},
{"s":"SBAG","t":2.6,"v":32.5},{"s":"SBAG","t":4.7,"v":47.8},{"s":"SBAG","t":7.8,"v":53.4},{"s":"SBAG","t":9.9,"v":53.1},{"s":"SBAG","t":13,"v":59.1},{"s":"SBAG","t":18.2,"v":59.4},{"s":"SBAG","t":21.8,"v":64.3},{"s":"SBAG","t":24.4,"v":66.6},{"s":"SBAG","t":27,"v":68.1},{"s":"SBAG","t":29.6,"v":68.4},{"s":"SBAG","t":32.2,"v":74},{"s":"SBAG","t":35.8,"v":73.3},{"s":"SBAG","t":39,"v":76.3},{"s":"SBAG","t":42.6,"v":77.8},{"s":"SBAG","t":46.2,"v":80.4},{"s":"SBAG","t":47.8,"v":75.5},{"s":"SBAG","t":50.4,"v":81.5},{"s":"SBAG","t":53,"v":82.3},{"s":"SBAG","t":55.6,"v":80},{"s":"SBAG","t":59.7,"v":83.4},{"s":"SBAG","t":63.4,"v":82.3},{"s":"SBAG","t":67,"v":83.4},{"s":"SBAG","t":71.2,"v":84.5},{"s":"SBAG","t":75.3,"v":83},{"s":"SBAG","t":79,"v":86.4},{"s":"SBAG","t":82.6,"v":83.4},{"s":"SBAG","t":86.8,"v":84.9},{"s":"SBAG","t":91.9,"v":84.5},{"s":"SBAG","t":97.1,"v":85.7},{"s":"SBAG","t":102.3,"v":84.5},{"s":"SBAG","t":107.5,"v":80.8},{"s":"SBAG","t":111.7,"v":86},{"s":"SBAG","t":115.3,"v":80.8},{"s":"SBAG","t":119,"v":86.4},{"s":"SBAG","t":123.1,"v":85.3},{"s":"SBAG","t":128.3,"v":85.7},{"s":"SBAG","t":133.5,"v":87.2},{"s":"SBAG","t":138.7,"v":85.3},{"s":"SBAG","t":143.9,"v":86.4},{"s":"SBAG","t":149.1,"v":87.2},{"s":"SBAG","t":154.3,"v":86},{"s":"SBAG","t":159.5,"v":84.5},{"s":"SBAG","t":164.7,"v":85.3},{"s":"SBAG","t":169.9,"v":83.8},{"s":"SBAG","t":175.1,"v":86.4},{"s":"SBAG","t":180.3,"v":88.3},{"s":"SBAG","t":185.5,"v":87.2},{"s":"SBAG","t":190.6,"v":86.8},{"s":"SBAG","t":195.8,"v":87.9},{"s":"SBAG","t":201,"v":86.8},{"s":"SBAG","t":206.2,"v":88.3},{"s":"SBAG","t":211.4,"v":87.2},{"s":"SBAG","t":216.6,"v":89},{"s":"SBAG","t":221.8,"v":83.4},{"s":"SBAG","t":227,"v":88.3},{"s":"SBAG","t":232.2,"v":88.7},{"s":"SBAG","t":237.4,"v":87.2},{"s":"SBAG","t":242.6,"v":88.3},{"s":"SBAG","t":247.8,"v":84.5},{"s":"SBAG","t":252,"v":90.1},{"s":"SBAG","t":255.6,"v":88.3},{"s":"SBAG","t":260.8,"v":85.7},{"s":"SBAG","t":264.4,"v":89.4},{"s":"SBAG","t":268.6,"v":86.8},{"s":"SBAG","t":273.8,"v":87.5},{"s":"SBAG","t":277.9,"v":85.3},{"s":"SBAG","t":281.5,"v":82.7},{"s":"SBAG","t":285.2,"v":87.9},{"s":"SBAG","t":287.3,"v":93.9},{"s":"SBAG","t":294.5,"v":94.1},{"s":"SBAG","t":305,"v":93.9},{"s":"SBAG","t":315,"v":94},{"s":"SBAG","t":325,"v":93.8},{"s":"SBAG","t":335,"v":94},{"s":"SBAG","t":345,"v":93.6},{"s":"SBAG","t":355,"v":93.8},{"s":"SBAG","t":362,"v":93.2},{"s":"SBAG","t":368,"v":93.7},{"s":"SBAG","t":374,"v":93},{"s":"SBAG","t":380,"v":93.5}
]
},
"hconcat": [
{
  "width": 512, "height": 400,
  "data": {"name": "a"},
  "title": {"text": "(a)", "orient": "bottom", "anchor": "middle", "frame": "bounds", "offset": 16},
  "layer": [
    {"mark": {"type": "line", "strokeWidth": 1.3},
     "encoding": {
       "x": {"field": "t", "type": "quantitative", "scale": {"domain": [0, 350], "nice": false}, "axis": {"orient": "bottom", "values": [0,50,100,150,200,250,300,350], "title": "Running Time (Minute)", "titlePadding": 10}},
       "y": {"field": "v", "type": "quantitative", "scale": {"domain": [10, 100], "nice": false, "zero": false}, "axis": {"orient": "left", "values": [10,20,30,40,50,60,70,80,90,100], "title": "Test Accuracy (%)", "titlePadding": 12}},
       "color": {"field": "s", "type": "nominal", "scale": {"domain": ["SGD","AdaGrad","AdaBound","SBAG"], "range": ["#c4449f","#f5871f","#2e2a8a","#0d9a4a"]},
         "legend": {"orient": "none", "legendX": 1, "legendY": 483, "columns": 2, "title": null, "symbolType": "stroke", "symbolSize": 1089, "symbolStrokeWidth": 1.3, "labelOffset": 14, "rowPadding": -2, "columnPadding": 124}}
     }},
    {"mark": {"type": "line", "opacity": 0},
     "encoding": {
       "x": {"field": "t", "type": "quantitative", "axis": {"orient": "top", "values": [0,50,100,150,200,250,300,350], "labels": false, "title": null}},
       "y": {"field": "v", "type": "quantitative", "axis": {"orient": "right", "values": [10,20,30,40,50,60,70,80,90,100], "labels": false, "title": null}},
       "detail": {"field": "s"}
     }}
  ],
  "resolve": {"axis": {"x": "independent", "y": "independent"}}
},
{
  "width": 514, "height": 400,
  "data": {"name": "b"},
  "title": {"text": "(b)", "orient": "bottom", "anchor": "middle", "frame": "bounds", "offset": 16},
  "layer": [
    {"mark": {"type": "line", "strokeWidth": 1.3},
     "encoding": {
       "x": {"field": "t", "type": "quantitative", "scale": {"domain": [0, 800], "nice": false}, "axis": {"orient": "bottom", "values": [0,100,200,300,400,500,600,700,800], "title": "Running Time (Minute)", "titlePadding": 10}},
       "y": {"field": "v", "type": "quantitative", "scale": {"domain": [10, 100], "nice": false, "zero": false}, "axis": {"orient": "left", "values": [10,20,30,40,50,60,70,80,90,100], "title": "Test Accuracy (%)", "titlePadding": 12}},
       "color": {"field": "s", "type": "nominal", "scale": {"domain": ["SGD","AdaGrad","AdaBound","SBAG"], "range": ["#c4449f","#f5871f","#2e2a8a","#0d9a4a"]},
         "legend": {"orient": "none", "legendX": 1, "legendY": 483, "columns": 2, "title": null, "symbolType": "stroke", "symbolSize": 1089, "symbolStrokeWidth": 1.3, "labelOffset": 14, "rowPadding": -2, "columnPadding": 124}}
     }},
    {"mark": {"type": "line", "opacity": 0},
     "encoding": {
       "x": {"field": "t", "type": "quantitative", "axis": {"orient": "top", "values": [0,100,200,300,400,500,600,700,800], "labels": false, "title": null}},
       "y": {"field": "v", "type": "quantitative", "axis": {"orient": "right", "values": [10,20,30,40,50,60,70,80,90,100], "labels": false, "title": null}},
       "detail": {"field": "s"}
     }}
  ],
  "resolve": {"axis": {"x": "independent", "y": "independent"}}
}
],
"resolve": {"legend": {"color": "independent"}}
}
